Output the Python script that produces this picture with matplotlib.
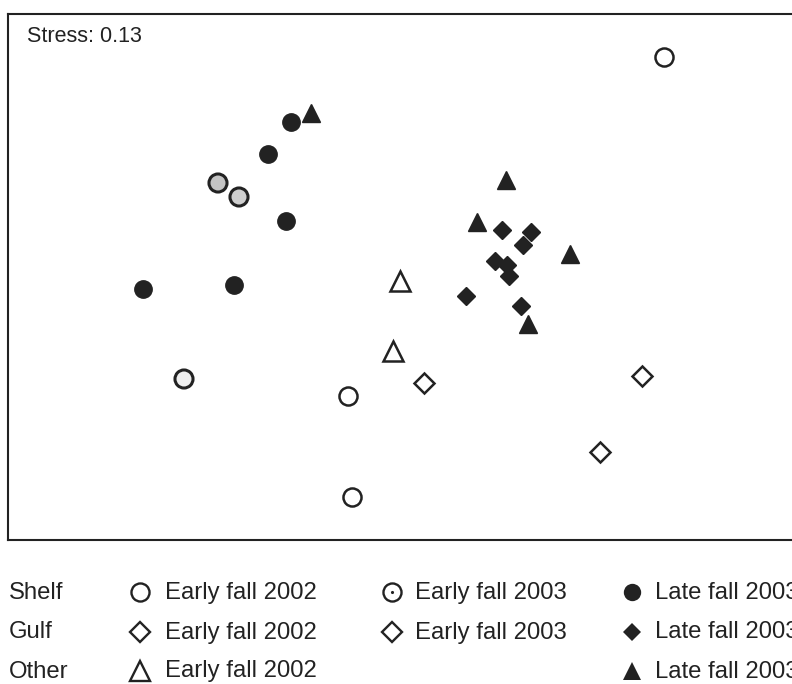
import matplotlib
matplotlib.use("Agg")
import matplotlib.pyplot as plt

# NMDS coordinates
shelf_e02_x = [1.32, -0.26, -0.24]
shelf_e02_y = [1.115, -0.58, -1.085]
shelf_e03_x = [-0.91, -0.805, -1.08]
shelf_e03_y = [0.485, 0.415, -0.495]
shelf_l03_x = [-0.545, -0.66, -0.57, -1.285, -0.83]
shelf_l03_y = [0.79, 0.63, 0.295, -0.045, -0.025]

gulf_e02_x = [0.12]
gulf_e02_y = [-0.515]
gulf_e03_x = [1.21, 1.0]
gulf_e03_y = [-0.48, -0.86]
gulf_l03_x = [0.51, 0.655, 0.615, 0.475, 0.535, 0.545, 0.33, 0.605]
gulf_l03_y = [0.25, 0.24, 0.175, 0.095, 0.075, 0.02, -0.08, -0.13]

other_e02_x = [0.0, -0.035]
other_e02_y = [-0.005, -0.355]
other_l03_x = [-0.445, 0.53, 0.385, 0.85, 0.64]
other_l03_y = [0.835, 0.5, 0.29, 0.13, -0.22]

stress = 0.13
groups = ["Shelf", "Gulf", "Other"]
periods = ["Early fall 2002", "Early fall 2003", "Late fall 2003"]

plt.rcParams["font.family"] = ["Liberation Sans", "DejaVu Sans"]
FS = 15.5
FS_LEG = 17.2
INK = "#222222"

W, H = 792, 684
fig = plt.figure(figsize=(W / 100, H / 100), dpi=100)

# plot frame runs off the right edge of the picture
ax = fig.add_axes([8 / W, (H - 540) / H, (805 - 8) / W, (540 - 14) / H])
ax.set_xlim(-1.96, 2.025)
ax.set_ylim(-1.3, 1.33)
ax.set_xticks([])
ax.set_yticks([])
for sp in ax.spines.values():
    sp.set_linewidth(1.5)
    sp.set_color(INK)

ax.plot(shelf_e02_x, shelf_e02_y, "o", ms=13, mfc="white", mec=INK, mew=1.8, ls="none")
ax.scatter(shelf_e03_x, shelf_e03_y, s=13 ** 2, marker="o",
           facecolors=["#c4c4c4", "#cfcfcf", "#eeeeee"], edgecolors=INK, linewidths=2.2, zorder=3)
ax.plot(shelf_l03_x, shelf_l03_y, "o", ms=12.5, mfc=INK, mec=INK, ls="none")

ax.plot(gulf_e02_x, gulf_e02_y, "D", ms=10, mfc="white", mec=INK, mew=1.8, ls="none")
ax.plot(gulf_e03_x, gulf_e03_y, "D", ms=10, mfc="white", mec=INK, mew=1.8, ls="none")
ax.plot(gulf_l03_x, gulf_l03_y, "D", ms=9, mfc=INK, mec=INK, ls="none")

ax.plot(other_e02_x, other_e02_y, "^", ms=14, mfc="white", mec=INK, mew=1.8, ls="none")
ax.plot(other_l03_x, other_l03_y, "^", ms=13, mfc=INK, mec=INK, ls="none")

ax.text(19 / 797, 1 - (41.5 - 14) / 526, f"Stress: {stress}", transform=ax.transAxes,
        fontsize=FS, color=INK, va="baseline", ha="left")

# legend block below the frame, laid out in pixel space
lg = fig.add_axes([0, 0, 1, 1], zorder=-1)
lg.set_xlim(0, W)
lg.set_ylim(H, 0)
lg.axis("off")

row_y = [591.5, 631.5, 670.5]
base_y = [599, 638.5, 677.5]
col_mark_x = [140, 392, 632]
col_text_x = [165, 415, 655]
legend_marks = [
    [dict(marker="o", ms=13, mfc="white", mew=1.7),
     dict(marker="o", ms=13, mfc="white", mew=1.7),
     dict(marker="o", ms=12.5, mfc=INK, mew=0)],
    [dict(marker="D", ms=10, mfc="white", mew=1.7),
     dict(marker="D", ms=10, mfc="white", mew=1.7),
     dict(marker="D", ms=9, mfc=INK, mew=0)],
    [dict(marker="^", ms=14, mfc="white", mew=1.7),
     None,
     dict(marker="^", ms=13, mfc=INK, mew=0)],
]

for r, grp in enumerate(groups):
    lg.text(9, base_y[r], grp, fontsize=FS_LEG, color=INK, va="baseline", ha="left")
    for c, per in enumerate(periods):
        st = legend_marks[r][c]
        if st is None:
            continue
        lg.plot([col_mark_x[c]], [row_y[r]], ls="none", mec=INK, **st)
        if r == 0 and c == 1:
            lg.plot([col_mark_x[c]], [row_y[r]], ".", ms=2.5, color=INK)
        lg.text(col_text_x[c], base_y[r], per, fontsize=FS_LEG, color=INK,
                va="baseline", ha="left")

fig.savefig("out.png", dpi=100)
